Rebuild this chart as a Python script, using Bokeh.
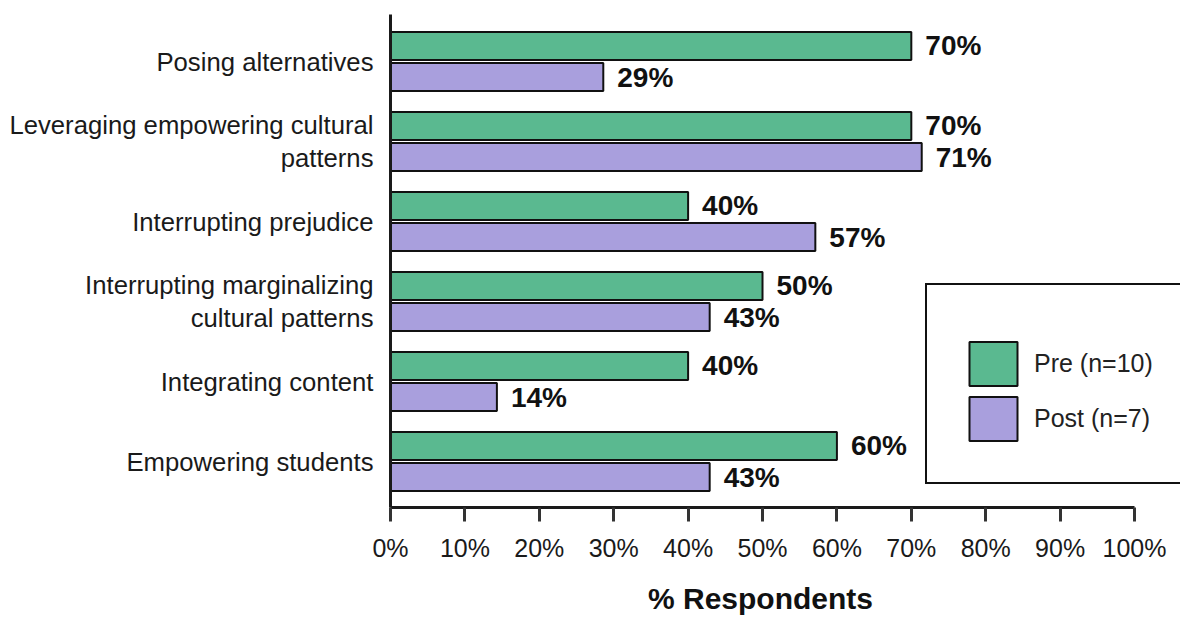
from bokeh.plotting import figure
from bokeh.models import (FixedTicker, PrintfTickFormatter, Legend, LegendItem,
                          Range1d, ColumnDataSource)
from bokeh.core.properties import value
from bokeh.embed import file_html
from bokeh.resources import INLINE

# ---- data (top to bottom) ----
categories = [
    "Posing alternatives",
    "Leveraging empowering cultural\npatterns",
    "Interrupting prejudice",
    "Interrupting marginalizing\ncultural patterns",
    "Integrating content",
    "Empowering students",
]
pre = [70, 70, 40, 50, 40, 60]
post = [28.6, 71.4, 57.1, 42.9, 14.3, 42.9]
series_names = ["Pre (n=10)", "Post (n=7)"]
x_ticks = [0, 10, 20, 30, 40, 50, 60, 70, 80, 90, 100]
x_title = "% Respondents"

GREEN = "#5ab990"
PURPLE = "#a99fdd"
FONT = "Liberation Sans"
DARK = "#1a1a1a"

n = len(categories)
pos = [n - 1 - i for i in range(n)]
BAR_H = 0.35
OFF = 0.194
pre_y = [v + OFF for v in pos]
post_y = [v - OFF for v in pos]

src_pre = ColumnDataSource(dict(y=pre_y, x=pre, lab=[f"{v:.0f}%" for v in pre]))
src_post = ColumnDataSource(dict(y=post_y, x=post, lab=[f"{v:.0f}%" for v in post]))

# frame runs past 100% to the right edge so that the legend box is cut there
p = figure(width=1180, height=618,
           x_range=Range1d(0, 106.18), y_range=Range1d(-0.575, 5.5875),
           output_backend="svg", toolbar_location=None,
           min_border_left=390, min_border_right=0,
           min_border_top=14, min_border_bottom=111)
p.outline_line_color = None
p.grid.visible = False
p.background_fill_color = "white"
p.border_fill_color = "white"

r1 = p.hbar(y="y", right="x", left=0, height=BAR_H, source=src_pre,
            fill_color=GREEN, line_color="#111111", line_width=2)
r2 = p.hbar(y="y", right="x", left=0, height=BAR_H, source=src_post,
            fill_color=PURPLE, line_color="#111111", line_width=2)

for src in (src_pre, src_post):
    p.text(x="x", y="y", text="lab", source=src, x_offset=14,
           text_align="left", text_baseline="middle",
           text_font=value(FONT), text_font_style="bold",
           text_font_size="28px", text_color="#111111")

# x axis
xa = p.xaxis[0]
xa.ticker = FixedTicker(ticks=x_ticks)
xa.bounds = (x_ticks[0], x_ticks[-1])
xa.formatter = PrintfTickFormatter(format="%d%%")
xa.axis_line_width = 3
xa.axis_line_color = "#1a1a1a"
xa.major_tick_line_width = 3
xa.major_tick_line_color = "#333333"
xa.major_tick_in = 0
xa.major_tick_out = 14
xa.minor_tick_line_color = None
xa.major_label_text_font = FONT
xa.major_label_text_font_size = "25px"
xa.major_label_text_color = DARK
xa.major_label_standoff = 12
# trailing spaces pull the centred title back over the 0-100% span
xa.axis_label = x_title + "      "
xa.axis_label_text_font = FONT
xa.axis_label_text_font_style = "bold"
xa.axis_label_text_font_size = "30px"
xa.axis_label_text_color = "#111111"
xa.axis_label_standoff = 17

# y axis
ya = p.yaxis[0]
ya.ticker = FixedTicker(ticks=pos)
ya.major_label_overrides = {pv: lab for pv, lab in zip(pos, categories)}
ya.axis_line_width = 3
ya.axis_line_color = "#1a1a1a"
ya.major_tick_line_color = None
ya.minor_tick_line_color = None
ya.major_label_text_font = FONT
ya.major_label_text_font_size = "25.7px"
ya.major_label_text_color = DARK
ya.major_label_standoff = 11

legend = Legend(items=[LegendItem(label=series_names[0], renderers=[r1]),
                       LegendItem(label=series_names[1], renderers=[r2])],
                location=(535, 23), margin=0, padding=36, spacing=0,
                glyph_width=60, glyph_height=55, label_standoff=11,
                label_width=260, label_height=40,
                label_text_font=FONT, label_text_font_size="25px",
                label_text_color="#222222",
                border_line_color="#111111", border_line_width=2.5,
                border_line_alpha=1.0,
                background_fill_color="white", background_fill_alpha=1,
                title=" ", title_text_font_size="1px", title_standoff=14)
p.add_layout(legend)

open("out.html", "w").write(file_html(p, INLINE))
